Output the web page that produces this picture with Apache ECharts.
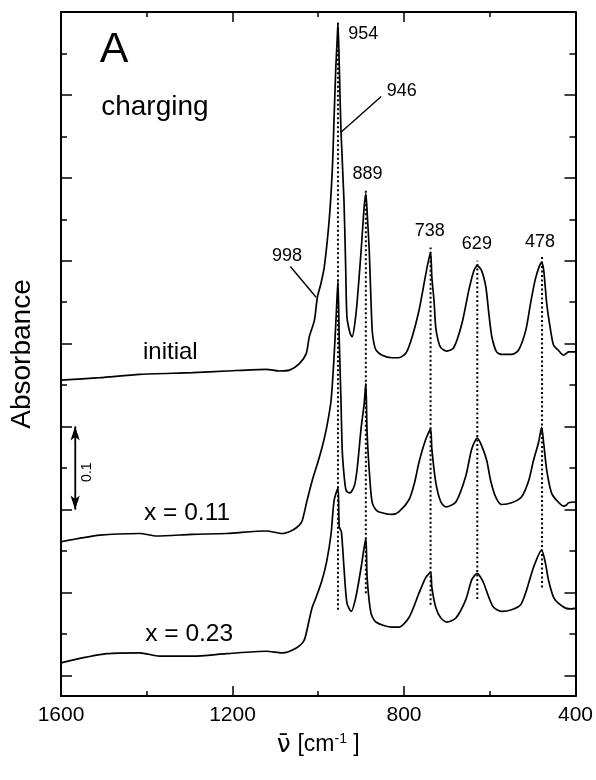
<!DOCTYPE html>
<html>
<head>
<meta charset="utf-8">
<script src="https://cdn.jsdelivr.net/npm/echarts@6/dist/echarts.min.js"></script>
<style>
html,body{margin:0;padding:0;background:#fff;}
#chart{width:596px;height:780px;}
</style>
</head>
<body>
<div id="chart"></div>
<script>
// ---- data (wavenumber cm-1, absorbance) ----
const initialSpectrum = [
[1600,0.381],[1509,0.384],[1416,0.388],[1293,0.390],[1214,0.392],[1121,0.394],[1091,0.392],[1067,0.393],
[1044,0.401],[1028,0.413],[1021,0.433],[1009,0.453],[1002,0.481],[994,0.497],[986,0.517],[974,0.577],
[967,0.637],[963,0.698],[959,0.758],[956,0.790],[954,0.812],[951,0.762],[947,0.682],[940,0.598],
[936,0.517],[933,0.457],[926,0.438],[921,0.433],[915,0.448],[909,0.477],[900,0.537],[893,0.589],
[889,0.606],[885,0.575],[881,0.537],[877,0.477],[874,0.440],[870,0.425],[865,0.417],[851,0.411],
[828,0.408],[812,0.408],[795,0.414],[781,0.433],[765,0.465],[753,0.498],[745,0.520],[738,0.535],
[735,0.505],[730,0.477],[726,0.445],[720,0.428],[714,0.420],[700,0.416],[684,0.420],[665,0.449],
[649,0.489],[637,0.513],[629,0.519],[619,0.513],[609,0.493],[602,0.461],[595,0.433],[584,0.415],
[572,0.412],[549,0.412],[533,0.417],[516,0.441],[505,0.473],[493,0.504],[479,0.523],[474,0.513],
[467,0.473],[458,0.441],[451,0.423],[440,0.417],[428,0.411],[422,0.413],[416,0.415],[409,0.415],[400,0.415]
];
const x011Spectrum = [
[1600,0.186],[1509,0.194],[1416,0.196],[1377,0.193],[1293,0.195],[1214,0.196],[1121,0.199],[1084,0.196],
[1060,0.200],[1044,0.206],[1037,0.212],[1026,0.236],[1014,0.260],[1002,0.280],[991,0.300],[980,0.325],
[970,0.357],[963,0.410],[958,0.460],[954,0.501],[951,0.430],[947,0.357],[944,0.296],[939,0.262],
[935,0.248],[928,0.245],[923,0.246],[915,0.255],[909,0.275],[900,0.323],[893,0.352],[889,0.377],
[886,0.317],[879,0.257],[874,0.233],[866,0.225],[858,0.222],[828,0.219],[812,0.222],[788,0.237],
[775,0.258],[765,0.282],[749,0.310],[738,0.322],[735,0.298],[726,0.258],[714,0.234],[702,0.228],
[679,0.234],[656,0.265],[642,0.298],[629,0.311],[619,0.302],[607,0.284],[598,0.260],[586,0.240],
[572,0.231],[549,0.233],[526,0.240],[509,0.260],[498,0.284],[486,0.306],[479,0.324],[474,0.304],
[467,0.272],[456,0.245],[444,0.236],[428,0.229],[422,0.230],[416,0.233],[402,0.234],[400,0.234]
];
const x023Spectrum = [
[1600,0.040],[1493,0.051],[1416,0.052],[1370,0.048],[1293,0.048],[1214,0.051],[1121,0.054],[1084,0.052],
[1051,0.058],[1033,0.067],[1021,0.092],[1014,0.107],[1005,0.119],[991,0.140],[980,0.163],[970,0.196],
[963,0.236],[954,0.251],[951,0.204],[946,0.198],[940,0.155],[933,0.112],[923,0.102],[912,0.120],
[900,0.155],[889,0.190],[886,0.143],[877,0.100],[865,0.089],[828,0.083],[812,0.083],[788,0.095],
[765,0.124],[749,0.143],[738,0.149],[735,0.131],[726,0.107],[714,0.094],[700,0.089],[679,0.094],
[656,0.116],[642,0.140],[629,0.148],[621,0.143],[614,0.136],[602,0.119],[591,0.107],[572,0.102],
[549,0.104],[528,0.110],[514,0.128],[498,0.155],[479,0.176],[470,0.160],[463,0.140],[451,0.119],
[440,0.112],[423,0.106],[409,0.105],[400,0.106]
];
const peakLineWn = [954, 889, 738, 629, 478];
const peakLineTop = [0.814, 0.612, 0.541, 0.525, 0.531];
const peakLineBottom = [0.104, 0.124, 0.110, 0.117, 0.131];
const leader946 = [[853, 0.723], [947, 0.680]];
const leader998 = [[1065, 0.518], [1005, 0.481]];
const scaleBar = [[1567, 0.225], [1567, 0.325]];
const xTickLabels = [400, 800, 1200, 1600];
const yMajorTicks = [0.025, 0.125, 0.225, 0.325, 0.425, 0.525, 0.625, 0.725];
const yMinorTicks = [0.075, 0.175, 0.275, 0.375, 0.475, 0.575, 0.675, 0.775];
// annotations: [text, wavenumber, absorbance]
const peakLabels = [['954',895,0.798],['946',805,0.730],['889',885,0.630],['738',740,0.561],['629',630,0.545],['478',483,0.548],['998',1073,0.531]];
const curveLabels = [['initial',1345,0.414],['x = 0.11',1306,0.220],['x = 0.23',1301,0.074]];
const panelLabel = ['A',1476,0.779];
const conditionLabel = ['charging',1381,0.710];
const scaleLabel = ['0.1',1540,0.270];

const FONT = "'Liberation Sans', Arial, Helvetica, sans-serif";
const chart = echarts.init(document.getElementById('chart'), null, {renderer:'canvas'});

function xAx(pos, showLabel){
  return {
    type:'value', min:400, max:1600, interval:400, inverse:true, position:pos,
    axisLine:{show:true, onZero:false, lineStyle:{color:'#000', width:2}},
    axisTick:{show:true, inside:true, length:10, lineStyle:{color:'#000', width:1.5}},
    minorTick:{show:true, splitNumber:2, length:5, lineStyle:{color:'#000', width:1.5}},
    axisLabel:{show:showLabel, fontSize:21, color:'#000', margin:9, fontFamily:FONT,
      formatter: v => String(v)},
    splitLine:{show:false}, minorSplitLine:{show:false}
  };
}
function yAx(pos, ticks, len, showLine){
  return {
    type:'value', min:0, max:0.825, position:pos,
    axisLine:{show:showLine, onZero:false, lineStyle:{color:'#000', width:2}},
    axisTick:{show:true, inside:true, length:len, customValues:ticks, lineStyle:{color:'#000', width:1.5}},
    axisLabel:{show:false},
    splitLine:{show:false}
  };
}

const lineSeries = (name, data) => ({
  type:'line', name, data, showSymbol:false, symbol:'none', smooth:0.25,
  lineStyle:{color:'#000', width:1.7}, silent:true, z:3
});

const dotted = peakLineWn.map((wn,i) => ({
  type:'line', data:[[wn, peakLineBottom[i]],[wn, peakLineTop[i]]], symbol:'none', silent:true,
  lineStyle:{color:'#000', width:2, type:[2,2.5]}, z:2
}));

const labelItem = (arr, size, extra) => ({
  value:[arr[1], arr[2]],
  label:Object.assign({show:true, formatter:arr[0], fontSize:size, color:'#000', fontFamily:FONT,
    position:'inside', align:'center', verticalAlign:'middle', textBorderWidth:0, opacity:1}, extra||{})
});

chart.setOption({
  animation:false,
  backgroundColor:'#fff',
  grid:{left:61, top:12, width:516, height:684, containLabel:false},
  xAxis:[
    Object.assign(xAx('bottom', true), {
      name:'{v|ν̄}  {t|[cm}{s|-1}{t| ]}', nameLocation:'middle', nameGap:36,
      nameTextStyle:{color:'#000', fontFamily:FONT, rich:{
        v:{fontSize:25, fontFamily:"'DejaVu Sans', sans-serif", color:'#000'},
        t:{fontSize:23, fontFamily:FONT, color:'#000'},
        s:{fontSize:14, fontFamily:FONT, color:'#000', verticalAlign:'top', padding:[0,0,12,0]}
      }}
    }),
    xAx('top', false)
  ],
  yAxis:[
    Object.assign(yAx('left', yMajorTicks, 11, true), {
      name:'Absorbance', nameLocation:'middle', nameGap:25,
      nameTextStyle:{fontSize:28, color:'#000', fontFamily:FONT}
    }),
    yAx('left', yMinorTicks, 6, false),
    yAx('right', yMajorTicks, 11, true),
    yAx('right', yMinorTicks, 6, false)
  ],
  series:[
    lineSeries('initial', initialSpectrum),
    lineSeries('x = 0.11', x011Spectrum),
    lineSeries('x = 0.23', x023Spectrum),
    ...dotted,
    {type:'line', data:leader946, symbol:'none', silent:true, lineStyle:{color:'#000', width:1.4}},
    {type:'line', data:leader998, symbol:'none', silent:true, lineStyle:{color:'#000', width:1.4}},
    {type:'line', data:scaleBar, symbol:'none', silent:true, lineStyle:{color:'#000', width:1.4},
      markLine:{silent:true, symbol:['arrow','arrow'], symbolSize:[7,14], label:{show:false},
        lineStyle:{color:'#000', width:1.4, type:'solid'},
        data:[[{coord:scaleBar[0]},{coord:scaleBar[1]}]]}},
    {type:'scatter', symbolSize:0, silent:true, z:5, itemStyle:{color:'#000'},
      data:[
        ...peakLabels.map(p => labelItem(p, 18)),
        ...curveLabels.map((p,i) => labelItem(p, i===0 ? 24 : 24.5)),
        labelItem(panelLabel, 43),
        labelItem(conditionLabel, 28),
        labelItem(scaleLabel, 14, {rotate:90})
      ]}
  ]
});
</script>
</body>
</html>
